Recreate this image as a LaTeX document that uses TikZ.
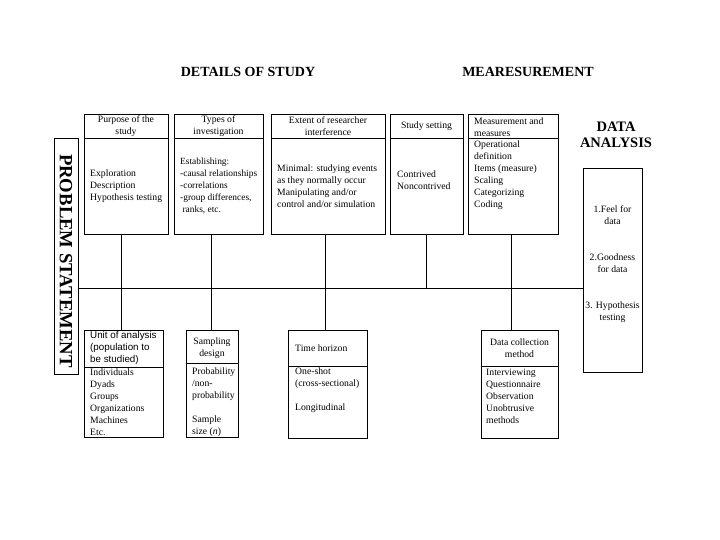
\documentclass[tikz,border=0pt]{standalone}
\usepackage{fontspec}
\setmainfont{Liberation Serif}
\setsansfont{Liberation Sans}
\begin{document}
\begin{tikzpicture}[
      x=1pt, y=-1pt,
      font=\fontsize{9.7}{12}\selectfont,
      kasten/.style={draw, line width=0.8pt, inner sep=0pt},
      linie/.style={line width=0.8pt},
      txt/.style={anchor=west, align=left, inner sep=0pt},
      kopf/.style={align=center, inner sep=0pt},
      titel/.style={font=\fontsize{14}{16}\selectfont\bfseries, inner sep=0pt}
    ]
      \useasboundingbox (0,0) rectangle (720,540);
      \node[titel] (tdetails) at (248,72) {DETAILS OF STUDY};
      \node[titel] (tmeas) at (528,72) {MEARESUREMENT};
      \node[titel, font=\fontsize{14.5}{16}\selectfont\bfseries, align=center] (tdata) at (616,135) {DATA\\ANALYSIS};
      \node[kasten, minimum width=84, minimum height=120] (purp) at (126,174) {};
      \node[kasten, minimum width=89, minimum height=120] (types) at (218.5,174) {};
      \node[kasten, minimum width=114, minimum height=120] (ext) at (328,174) {};
      \node[kasten, minimum width=73, minimum height=120] (sset) at (426.5,174) {};
      \node[kasten, minimum width=90, minimum height=120] (meas) at (513,174) {};
      \node[kasten, minimum width=24, minimum height=236] (prob) at (66,256) {};
      \node[kasten, minimum width=59, minimum height=204] (dana) at (612.5,270) {};
      \node[kasten, minimum width=79, minimum height=107] (unit) at (123.5,383.5) {};
      \node[kasten, minimum width=52, minimum height=107] (samp) at (212,383.5) {};
      \node[kasten, minimum width=79, minimum height=108] (time) at (327.5,384) {};
      \node[kasten, minimum width=77, minimum height=108] (dcol) at (519.5,384) {};
      \draw[linie] (purp.west |- 0,138) -- (purp.east |- 0,138);
      \draw[linie] (types.west |- 0,138) -- (types.east |- 0,138);
      \draw[linie] (ext.west |- 0,138) -- (ext.east |- 0,138);
      \draw[linie] (sset.west |- 0,138) -- (sset.east |- 0,138);
      \draw[linie] (meas.west |- 0,138) -- (meas.east |- 0,138);
      \draw[linie] (unit.west |- 0,367) -- (unit.east |- 0,367);
      \draw[linie] (samp.west |- 0,363) -- (samp.east |- 0,363);
      \draw[linie] (time.west |- 0,366) -- (time.east |- 0,366);
      \draw[linie] (dcol.west |- 0,366) -- (dcol.east |- 0,366);
      \node[rotate=-90, inner sep=0pt, font=\fontsize{18.7}{19}\selectfont\bfseries] (tprob) at (66,261) {PROBLEM STATEMENT};
      \node[kopf] (hpurp) at (126,126) {Purpose of the\\study};
      \node[txt] (bpurp) at (90,186) {Exploration\\Description\\Hypothesis testing};
      \node[kopf] (htypes) at (218.5,126) {Types of\\investigation};
      \node[txt, font=\fontsize{9.4}{12}\selectfont] (btypes) at (180,186) {Establishing:\\-causal relationships\\-correlations\\-group differences,\\\ ranks, etc.};
      \node[kopf] (hext) at (328,126) {Extent of researcher\\interference};
      \node[txt] (bext) at (277,186) {Minimal: studying events\\as they normally occur\\Manipulating and/or\\control and/or simulation};
      \node[kopf] (hsset) at (426.5,126) {Study setting};
      \node[txt] (bsset) at (397,180) {Contrived\\Noncontrived};
      \node[txt] (hmeas) at (474,127) {Measurement and\\measures};
      \node[txt] (bmeas) at (474,175) {Operational\\definition\\Items (measure)\\Scaling\\Categorizing\\Coding};
      \node[kopf] (bdana) at (612.5,264) {1.Feel for\\data\\\mbox{}\\\mbox{}\\2.Goodness\\for data\\\mbox{}\\\mbox{}\\3. Hypothesis\\testing};
      \node[txt, font=\fontsize{9.8}{12}\selectfont\sffamily] (hunit) at (90,348) {Unit of analysis\\(population to\\be studied)};
      \node[txt] (bunit) at (90,402) {Individuals\\Dyads\\Groups\\Organizations\\Machines\\Etc.};
      \node[kopf] (hsamp) at (212,348) {Sampling\\design};
      \node[txt] (bsamp) at (192,402) {Probability\\/non-\\probability\\\mbox{}\\Sample\\size (\textit{n})};
      \node[txt] (htime) at (295,348) {Time horizon};
      \node[txt] (btime) at (295,390) {One-shot\\(cross-sectional)\\\mbox{}\\Longitudinal};
      \node[kopf] (hdcol) at (519.5,348) {Data collection\\method};
      \node[txt] (bdcol) at (486,396) {Interviewing\\Questionnaire\\Observation\\Unobtrusive\\methods};
      \coordinate (hl) at (0,288);
      \draw[linie] (prob.east |- hl) -- (dana.west |- hl);
      \draw[linie] ([xshift=-5pt]purp.south) -- ([xshift=-2.5pt]unit.north);
      \draw[linie] ([xshift=-7.5pt]types.south) -- ([xshift=-1pt]samp.north);
      \draw[linie] ([xshift=-3pt]ext.south) -- ([xshift=-2.5pt]time.north);
      \draw[linie] (sset.south) -- (sset.south |- hl);
      \draw[linie] ([xshift=-2pt]meas.south) -- ([xshift=-8.5pt]dcol.north);
    \end{tikzpicture}
\end{document}
